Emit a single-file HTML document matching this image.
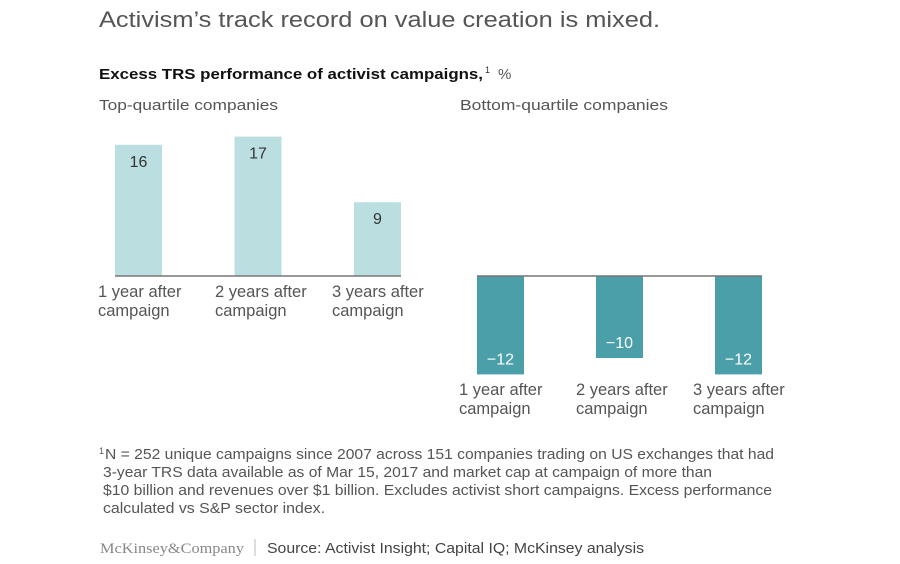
<!DOCTYPE html>
<html><head><meta charset="utf-8"><style>
html,body{margin:0;padding:0;background:#fff;}
svg{display:block;font-family:"Liberation Sans",sans-serif;}
</style></head><body>
<svg id="chart" width="900" height="564" viewBox="0 0 900 564" xmlns="http://www.w3.org/2000/svg">
<text x="99" y="27" font-size="22" fill="#555" textLength="561" lengthAdjust="spacingAndGlyphs">Activism’s track record on value creation is mixed.</text>
<text x="99" y="79" font-size="15" font-weight="bold" fill="#111" textLength="384" lengthAdjust="spacingAndGlyphs">Excess TRS performance of activist campaigns,</text>
<text x="485" y="73" font-size="9" fill="#333">1</text>
<text x="498" y="79" font-size="15" fill="#555">%</text>
<text x="99" y="110" font-size="15" fill="#555" textLength="179" lengthAdjust="spacingAndGlyphs">Top-quartile companies</text>
<text x="460" y="110" font-size="15" fill="#555" textLength="208" lengthAdjust="spacingAndGlyphs">Bottom-quartile companies</text>
<g id="left"></g>
<g id="right"></g>
<g fill="#555">
<text x="99" y="454" font-size="9" fill="#555">1</text>
<text x="105" y="459" font-size="15" textLength="669" lengthAdjust="spacingAndGlyphs">N = 252 unique campaigns since 2007 across 151 companies trading on US exchanges that had</text>
<text x="103" y="477" font-size="15" textLength="609" lengthAdjust="spacingAndGlyphs">3-year TRS data available as of Mar 15, 2017 and market cap at campaign of more than</text>
<text x="103" y="495" font-size="15" textLength="669" lengthAdjust="spacingAndGlyphs">$10 billion and revenues over $1 billion. Excludes activist short campaigns. Excess performance</text>
<text x="103" y="513" font-size="15" textLength="222" lengthAdjust="spacingAndGlyphs">calculated vs S&amp;P sector index.</text>
</g>
<text x="100" y="553" font-family="Liberation Serif,serif" font-size="15" fill="#888" textLength="144" lengthAdjust="spacingAndGlyphs">McKinsey&amp;Company</text>
<line x1="255" y1="539" x2="255" y2="556" stroke="#bbb" stroke-width="1"/>
<text x="267" y="553" font-size="15" fill="#444" textLength="377" lengthAdjust="spacingAndGlyphs">Source: Activist Insight; Capital IQ; McKinsey analysis</text>
</svg>
<script>
const categories = ["1 year after|campaign","2 years after|campaign","3 years after|campaign"];
const topValues = [16, 17, 9];
const bottomValues = [-12, -10, -12];
const topLabels = ["16","17","9"];
const bottomLabels = ["\u221212","\u221210","\u221212"];
const NS = "http://www.w3.org/2000/svg";
const baseY = 276, pxPerUnit = 8.2;
function yScale(v){ return baseY - v * pxPerUnit; }
function mk(tag, attrs, parent){ const e=document.createElementNS(NS,tag); for(const k in attrs) e.setAttribute(k,attrs[k]); parent.appendChild(e); return e; }
function drawPanel(gid, vals, labels, x0, step, color, labelColor, labelX, labelY0, prefix){
  const g=document.getElementById(gid);
  const bw=47;
  vals.forEach((v,i)=>{
    const x=x0+i*step;
    const y1=Math.min(yScale(v),baseY), h=Math.abs(yScale(v)-baseY);
    const r=mk('rect',{x:x,y:y1,width:bw,height:h,fill:color},g);
    
    
    const ty = v>=0 ? yScale(v)+22 : yScale(v)-10;
    const t=mk('text',{x:x+bw/2,y:ty,'text-anchor':'middle','font-size':16,fill:labelColor},g);
    t.textContent=labels[i];
    
    
    const parts=categories[i].split('|');
    parts.forEach((p,j)=>{
      const c=mk('text',{x:labelX+i*117,y:labelY0+j*19,'font-size':16.5,fill:'#555'},g);
      c.textContent=p;
      
      
    });
  });
  const l=mk('line',{x1:x0,y1:baseY,x2:x0+2*step+bw,y2:baseY,stroke:'#777','stroke-width':1.5},g);
  
  
}
drawPanel('left', topValues, topLabels, 115, 119.5, '#bbdfe0', '#333', 98, 297, 'top');
drawPanel('right', bottomValues, bottomLabels, 477, 119, '#4a9fa8', '#fff', 459, 395, 'bottom');
</script>
</body></html>
